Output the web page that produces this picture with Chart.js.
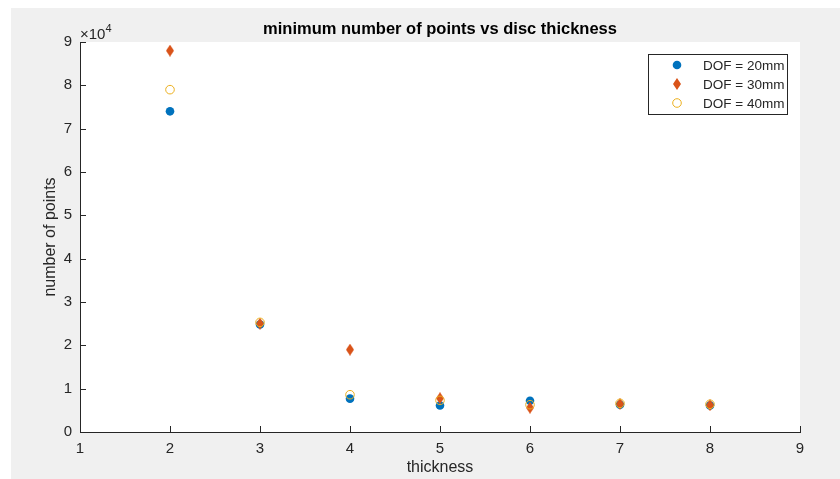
<!DOCTYPE html>
<html>
<head>
<meta charset="utf-8">
<script src="https://cdn.jsdelivr.net/npm/chart.js@4/dist/chart.umd.min.js"></script>
<style>
  html, body { margin: 0; padding: 0; background: #ffffff; }
  #wrap { width: 840px; height: 479px; position: relative; }
</style>
</head>
<body>
<div id="wrap"><canvas id="c" width="840" height="479"></canvas></div>
<script>
// ---- data ----
const thickness = [2, 3, 4, 5, 6, 7, 8];
const dof20 = [74000, 24800, 7700, 6100, 7200, 6300, 6100];
const dof30 = [88000, 25000, 19000, 7800, 5600, 6500, 6200];
const dof40 = [79000, 25300, 8600, 7300, 6300, 6600, 6400];
const seriesLabels = ['DOF = 20mm', 'DOF = 30mm', 'DOF = 40mm'];
const xTicks = [1, 2, 3, 4, 5, 6, 7, 8, 9];
const yTicks = [0, 10000, 20000, 30000, 40000, 50000, 60000, 70000, 80000, 90000];

const BLUE = '#0072BD', ORANGE = '#D95319', YELLOW = '#EDB120';
const AXC = '#262626';
const FONT = '"Liberation Sans", Arial, Helvetica, sans-serif';

function diamond(w, h, color) {
  const c = document.createElement('canvas');
  c.width = w; c.height = h;
  const g = c.getContext('2d');
  g.fillStyle = color;
  g.beginPath();
  g.moveTo(w / 2, 0); g.lineTo(w, h / 2); g.lineTo(w / 2, h); g.lineTo(0, h / 2);
  g.closePath(); g.fill();
  return c;
}
const diamondImg = diamond(8, 12, ORANGE);

function pts(ys) { return thickness.map((x, i) => ({ x: x, y: ys[i] })); }

const bgPlugin = {
  id: 'bg',
  beforeDraw(chart) {
    const { ctx, chartArea: a } = chart;
    ctx.save();
    ctx.fillStyle = '#ffffff';
    ctx.fillRect(0, 0, chart.width, chart.height);
    ctx.fillStyle = '#F0F0F0';
    ctx.fillRect(11, 8, chart.width - 11, chart.height - 8);
    ctx.fillStyle = '#ffffff';
    ctx.fillRect(a.left, a.top, a.right - a.left, a.bottom - a.top);
    ctx.restore();
  }
};

const decoPlugin = {
  id: 'deco',
  afterDraw(chart) {
    const { ctx, chartArea: a, scales } = chart;
    ctx.save();
    // inward tick marks
    ctx.strokeStyle = AXC;
    ctx.lineWidth = 1;
    ctx.beginPath();
    xTicks.forEach(v => {
      const px = Math.round(scales.x.getPixelForValue(v)) + 0.5;
      ctx.moveTo(px, a.bottom); ctx.lineTo(px, a.bottom - 6);
    });
    yTicks.forEach(v => {
      const py = Math.round(scales.y.getPixelForValue(v)) + 0.5;
      ctx.moveTo(a.left, py); ctx.lineTo(a.left + 6, py);
    });
    ctx.stroke();
    // exponent label
    ctx.fillStyle = AXC;
    ctx.textBaseline = 'alphabetic';
    ctx.textAlign = 'left';
    ctx.font = '15px ' + FONT;
    const base = '\u00D710';
    ctx.fillText(base, a.left, a.top - 3);
    const w = ctx.measureText(base).width;
    ctx.font = '11px ' + FONT;
    ctx.fillText('4', a.left + w, a.top - 10);
    // legend box
    const lx = 648, ly = 54, lw = 139, lh = 60;
    ctx.fillStyle = '#ffffff';
    ctx.fillRect(lx, ly, lw, lh);
    ctx.strokeStyle = '#262626';
    ctx.strokeRect(lx + 0.5, ly + 0.5, lw, lh);
    const rows = [65, 84, 103];
    chart.data.datasets.forEach((ds, i) => {
      const cy = rows[i], cx = 677;
      if (i === 0) {
        ctx.fillStyle = BLUE;
        ctx.beginPath(); ctx.arc(cx, cy, 4.3, 0, Math.PI * 2); ctx.fill();
      } else if (i === 1) {
        ctx.drawImage(diamondImg, cx - 4, cy - 6);
      } else {
        ctx.strokeStyle = YELLOW; ctx.lineWidth = 1;
        ctx.beginPath(); ctx.arc(cx, cy, 4.3, 0, Math.PI * 2); ctx.stroke();
      }
      ctx.fillStyle = AXC;
      ctx.font = '13.5px ' + FONT;
      ctx.textBaseline = 'middle';
      ctx.fillText(ds.label, 703, cy + 1);
    });
    ctx.restore();
  }
};

new Chart(document.getElementById('c'), {
  type: 'scatter',
  data: {
    datasets: [
      { label: seriesLabels[0], data: pts(dof20), order: 3,
        pointStyle: 'circle', pointRadius: 4.3, pointHoverRadius: 4.3,
        backgroundColor: BLUE, borderColor: BLUE, borderWidth: 0 },
      { label: seriesLabels[1], data: pts(dof30), order: 2,
        pointStyle: diamondImg, pointRadius: 6,
        backgroundColor: ORANGE, borderColor: ORANGE },
      { label: seriesLabels[2], data: pts(dof40), order: 1,
        pointStyle: 'circle', pointRadius: 4.3, pointHoverRadius: 4.3,
        backgroundColor: 'rgba(0,0,0,0)', borderColor: YELLOW, borderWidth: 1 }
    ]
  },
  options: {
    responsive: false,
    animation: false,
    devicePixelRatio: 1,
    layout: { padding: { left: 0, right: 40, top: 0, bottom: 0 } },
    plugins: {
      legend: { display: false },
      tooltip: { enabled: false },
      title: {
        display: true,
        text: 'minimum number of points vs disc thickness',
        fullSize: false,
        color: '#000000',
        font: { family: FONT, size: 16.5, weight: 'bold', lineHeight: 1.2 },
        padding: { top: 20, bottom: 2.2 }
      }
    },
    scales: {
      x: {
        type: 'linear', min: 1, max: 9,
        afterBuildTicks: s => { s.ticks = xTicks.map(v => ({ value: v })); },
        afterFit: s => { s.height = 47; },
        grid: { display: true, drawOnChartArea: false, drawTicks: false },
        border: { display: true, color: AXC, width: 1 },
        ticks: { color: AXC, padding: 8, font: { family: FONT, size: 15 } },
        title: { display: true, text: 'thickness', color: AXC,
          font: { family: FONT, size: 16, lineHeight: 1.2 }, padding: { top: 0, bottom: 1.4 } }
      },
      y: {
        type: 'linear', min: 0, max: 90000,
        afterBuildTicks: s => { s.ticks = yTicks.map(v => ({ value: v })); },
        afterFit: s => { s.width = 80; },
        grid: { display: true, drawOnChartArea: false, drawTicks: false },
        border: { display: true, color: AXC, width: 1 },
        ticks: { color: AXC, padding: 8, font: { family: FONT, size: 15 },
          callback: v => String(v / 10000) },
        title: { display: true, text: 'number of points', color: AXC,
          font: { family: FONT, size: 16, lineHeight: 1.2 }, padding: { top: 40.5, bottom: 0 } }
      }
    }
  },
  plugins: [bgPlugin, decoPlugin]
});
</script>
</body>
</html>
